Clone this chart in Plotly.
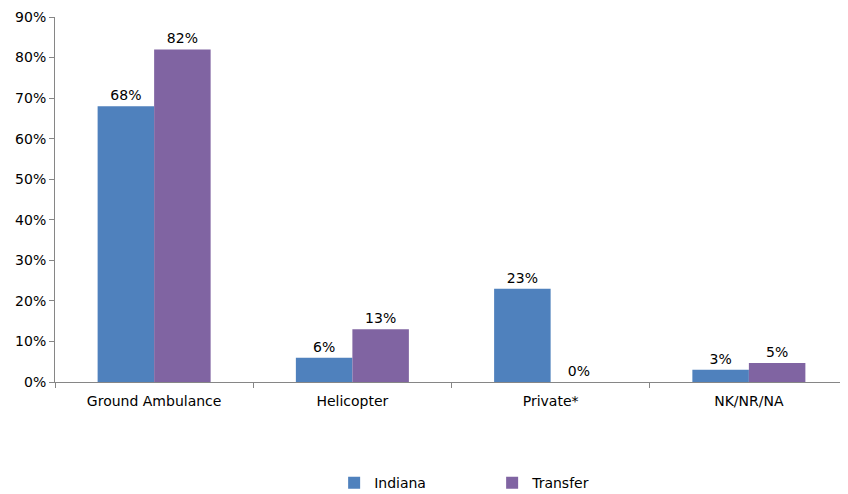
import plotly.graph_objects as go

categories = ["Ground Ambulance", "Helicopter", "Private*", "NK/NR/NA"]
indiana = [68, 6, 23, 3]
transfer = [82, 13, 0, 4.7]
y_ticks = [0, 10, 20, 30, 40, 50, 60, 70, 80, 90]
y_tick_labels = [f"{v}%" for v in y_ticks]

font_family = "DejaVu Sans"
axis_color = "#868686"

fig = go.Figure()
fig.add_trace(go.Bar(
    name="Indiana", x=categories, y=indiana,
    marker=dict(color="#4F81BD", line=dict(width=0)),
    text=[f"{v:.0f}%" for v in indiana], textposition="outside",
    textfont=dict(size=14, color="#000000", family=font_family),
    cliponaxis=False,
))
fig.add_trace(go.Bar(
    name="Transfer", x=categories, y=transfer,
    marker=dict(color="#8064A2", line=dict(width=0)),
    text=[f"{v:.0f}%" for v in transfer], textposition="outside",
    textfont=dict(size=14, color="#000000", family=font_family),
    cliponaxis=False,
))

# page body adds an 8px offset, so the figure is drawn at 840x486
fig.update_layout(
    width=840, height=486,
    margin=dict(l=47, r=0, t=9, b=112, autoexpand=False),
    paper_bgcolor="white", plot_bgcolor="white",
    barmode="group", bargap=0.43, bargroupgap=0,
    font=dict(family=font_family, size=14, color="#000000"),
    showlegend=True,
    legend=dict(orientation="h", x=0.352, xanchor="left", y=-0.277, yanchor="middle",
                font=dict(size=14, family=font_family), entrywidth=113,
                itemwidth=30, itemsizing="constant"),
    xaxis=dict(showline=True, linecolor=axis_color, linewidth=1, automargin=False,
               ticks="outside", ticklen=5, tickcolor=axis_color, tickson="boundaries",
               showgrid=False, tickfont=dict(size=14), ticklabelstandoff=6,
               ticklabeloverflow="allow"),
    yaxis=dict(range=[0, 90], tickvals=y_ticks, ticktext=y_tick_labels, automargin=False,
               showline=True, linecolor=axis_color, linewidth=1,
               ticks="outside", ticklen=5, tickcolor=axis_color,
               showgrid=False, zeroline=False, tickfont=dict(size=14),
               ticklabeloverflow="allow"),
)
fig.write_html("out.html")
